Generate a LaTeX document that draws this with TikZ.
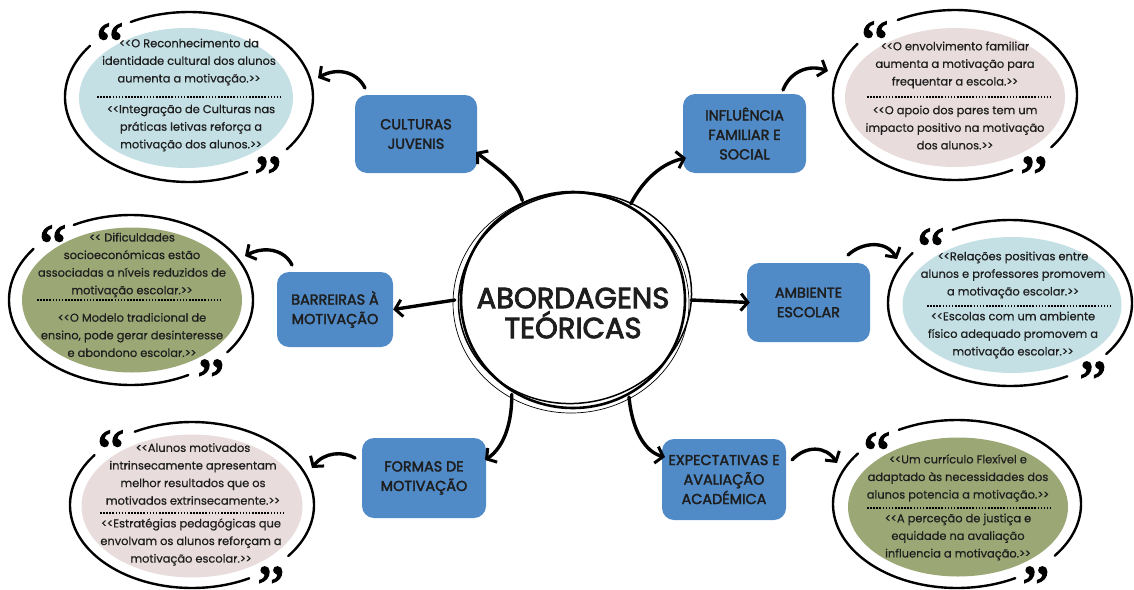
\documentclass[tikz,border=0pt]{standalone}
\usepackage{fontspec}
\setmainfont{Poppins}
\newfontfamily\quotefont{Liberation Serif}[FakeBold=2]
\newfontfamily\capsfont{Poppins}[FakeBold=2.5]
\newfontfamily\titlefont{Poppins}[FakeBold=3]
\newfontfamily\bodyfont{Poppins}[FakeBold=0.6]
\usetikzlibrary{arrows.meta,shapes.geometric}
\definecolor{boxblue}{RGB}{80,139,200}
\definecolor{lblue}{RGB}{196,224,229}
\definecolor{lpink}{RGB}{232,220,220}
\definecolor{olivef}{RGB}{156,167,118}
\definecolor{ink}{RGB}{30,30,30}
\newcommand\qopen{{<}\kern-0.5pt{<}}
\newcommand\qclose{{>}\kern-0.5pt{>}}
\newcommand\qglyph[1]{\raisebox{-0.44em}[0.25em][0pt]{#1}}
\newcommand\bubring[4]{%
  \draw[ring] plot[smooth,domain=-38:118,samples=50] ({#1+#3*cos(\x)},{#2-#4*sin(\x)});
  \draw[ring] plot[smooth,domain=143:298,samples=50] ({#1+#3*cos(\x)},{#2-#4*sin(\x)});}
\begin{document}
\begin{tikzpicture}[x=1pt,y=-1pt,
  box/.style={fill=boxblue, rounded corners=12pt, align=center, inner sep=0pt, text=ink,
     font=\capsfont\fontsize{14.4}{19.5}\selectfont},
  bub/.style={ellipse, draw=none, inner sep=0pt},
  btext/.style={align=center, inner sep=0pt, text=ink, font=\bodyfont\fontsize{11.4}{17.6}\selectfont},
  arr/.style={line width=3.4pt, line cap=round, line join=round,
     -{Straight Barb[length=7pt,width=17pt,line width=3pt]}},
  ring/.style={line width=2.4pt, line cap=round},
  dots/.style={line width=1.8pt, dash pattern=on 1.6pt off 1.5pt},
  qm/.style={inner sep=0pt, anchor=north, font=\quotefont\fontsize{62}{62}\selectfont}]
\useasboundingbox (0,0) rectangle (1134,589);

% ---------- centre ----------
\node[ellipse, minimum width=236, minimum height=220, inner sep=0pt] (ctr) at (573,300) {};
\draw[line width=2.6pt] (573,300) ellipse [x radius=112, y radius=108];
\draw[line width=1.5pt, rotate around={12:(575,298)}] (575,298) ellipse [x radius=117, y radius=105];
\draw[line width=0.7pt] (571,303) ellipse [x radius=118, y radius=110];
\node[align=center, inner sep=0pt, text=ink, font=\titlefont\fontsize{29}{30}\selectfont] (title) at (573,313) {ABORDAGENS\\TEÓRICAS};

% ---------- boxes ----------
\node[box, minimum width=122, minimum height=78] (cult) at (416,134) {CULTURAS\\JUVENIS};
\node[box, minimum width=123, minimum height=79] (infl) at (744.5,133.5) {INFLUÊNCIA\\FAMILIAR E\\SOCIAL};
\node[box, minimum width=116, minimum height=75] (barr) at (335,309.5) {BARREIRAS À\\MOTIVAÇÃO};
\node[box, minimum width=123, minimum height=79] (amb) at (808.5,302.5) {AMBIENTE\\ESCOLAR};
\node[box, minimum width=124, minimum height=80] (form) at (424,478) {FORMAS DE\\MOTIVAÇÃO};
\node[box, minimum width=124, minimum height=81] (expe) at (724,479.5) {EXPECTATIVAS E\\AVALIAÇÃO\\ACADÉMICA};

% ---------- bubbles ----------
% 1
\node[bub, fill=lblue, minimum width=214, minimum height=140] (b1) at (186,98) {};
\bubring{189}{97}{124}{85}
\node[btext] (b1u) at (189,62) {\qopen O Reconhecimento da\\identidade cultural dos alunos\\aumenta a motivação.\qclose};
\node[btext] (b1l) at (191,128) {\qopen Integração de Culturas nas\\práticas letivas reforça a\\motivação dos alunos.\qclose};
\draw[dots] (97,97) -- (280,97);
\node[qm] (q1a) at (110,22) {\qglyph{“}};
\node[qm] (q1b) at (268,155) {\qglyph{”}};
% 2
\node[bub, fill=lpink, minimum width=220, minimum height=139] (b2) at (955,97.5) {};
\bubring{955}{95}{122}{85}
\node[btext] (b2u) at (955,65) {\qopen O envolvimento familiar\\aumenta a motivação para\\frequentar a escola.\qclose};
\node[btext] (b2l) at (955,127.5) {\qopen O apoio dos pares tem um\\impacto positivo na motivação\\dos alunos.\qclose};
\draw[dots] (867,97) -- (1050,97);
\node[qm] (q2a) at (875,20) {\qglyph{“}};
\node[qm] (q2b) at (1034,155) {\qglyph{”}};
% 3
\node[bub, fill=olivef, minimum width=220, minimum height=145] (b3) at (132,300) {};
\bubring{131}{300}{122}{85}
\node[btext] (b3u) at (132,265) {\qopen{} Dificuldades\\socioeconómicas estão\\associadas a níveis reduzidos de\\motivação escolar.\qclose};
\node[btext] (b3l) at (132,335) {\qopen O Modelo tradicional de\\ensino, pode gerar desinteresse\\e abondono escolar.\qclose};
\draw[dots] (37,300) -- (220,300);
\node[qm] (q3a) at (53,224) {\qglyph{“}};
\node[qm] (q3b) at (211,358) {\qglyph{”}};
% 4
\node[bub, fill=lblue, minimum width=219, minimum height=136] (b4) at (1012,305) {};
\bubring{1010}{303}{122}{83}
\node[btext] (b4u) at (1013,275) {\qopen Relações positivas entre\\alunos e professores promovem\\a motivação escolar.\qclose};
\node[btext] (b4l) at (1013,335) {\qopen Escolas com um ambiente\\físico adequado promovem a\\motivação escolar.\qclose};
\draw[dots] (927,306) -- (1110,306);
\node[qm] (q4a) at (931,227) {\qglyph{“}};
\node[qm] (q4b) at (1093,360) {\qglyph{”}};
% 5
\node[bub, fill=lpink, minimum width=221, minimum height=143] (b5) at (192,506) {};
\bubring{192}{505}{122}{83}
\node[btext] (b5u) at (193,474) {\qopen Alunos motivados\\intrinsecamente apresentam\\melhor resultados que os\\motivados extrinsecamente.\qclose};
\node[btext] (b5l) at (191,542) {\qopen Estratégias pedagógicas que\\envolvam os alunos reforçam a\\motivação escolar.\qclose};
\draw[dots] (100,513) -- (283,513);
\node[qm] (q5a) at (111,429) {\qglyph{“}};
\node[qm] (q5b) at (271,565) {\qglyph{”}};
% 6
\node[bub, fill=olivef, minimum width=220, minimum height=139] (b6) at (958,507) {};
\bubring{957}{504}{124}{84}
\node[btext] (b6u) at (958,478) {\qopen Um currículo Flexível e\\adaptado às necessidades dos\\alunos potencia a motivação.\qclose};
\node[btext] (b6l) at (958,537) {\qopen A perceção de justiça e\\equidade na avaliação\\influencia a motivação.\qclose};
\draw[dots] (867,508) -- (1050,508);
\node[qm] (q6a) at (877,431) {\qglyph{“}};
\node[qm] (q6b) at (1036,565) {\qglyph{”}};

% ---------- arrow end points ----------
\coordinate (t1) at (476,152);
\coordinate (t3) at (686,158);
\coordinate (t9) at (485,460);
\coordinate (t11) at (665,457);
\coordinate (s2) at (365,88);   \coordinate (e2) at (318,78);
\coordinate (s4) at (783,90);   \coordinate (e4) at (828,71);
\coordinate (s6) at (292,265);  \coordinate (e6) at (245,256);
\coordinate (s8) at (848,255);  \coordinate (e8) at (897,259);
\coordinate (s10) at (355,458); \coordinate (e10) at (312,468);
\coordinate (s12) at (792,460); \coordinate (e12) at (837,463);

% ---------- arrows ----------
\draw[arr] (ctr.117) .. controls (517,180) and (492,165) .. (t1);
\draw[arr] (ctr.59) .. controls (643,180) and (662,163) .. (t3);
\draw[arr] (ctr.west) -- (barr.east);
\draw[arr] (ctr.east) -- ([xshift=3pt]amb.west);
\draw[arr] (ctr.237) .. controls (512,425) and (503,448) .. (t9);
\draw[arr] (ctr.300) .. controls (632,430) and (645,452) .. (t11);

\draw[arr] (s2) .. controls (356,70) and (335,68) .. (e2);
\draw[arr] (s4) .. controls (790,72) and (808,64) .. (e4);
\draw[arr] (s6) .. controls (284,249) and (264,246) .. (e6);
\draw[arr] (s8) .. controls (862,242) and (886,240) .. (e8);
\draw[arr] (s10) .. controls (343,451) and (324,452) .. (e10);
\draw[arr] (s12) .. controls (806,445) and (826,446) .. (e12);
\end{tikzpicture}
\end{document}
